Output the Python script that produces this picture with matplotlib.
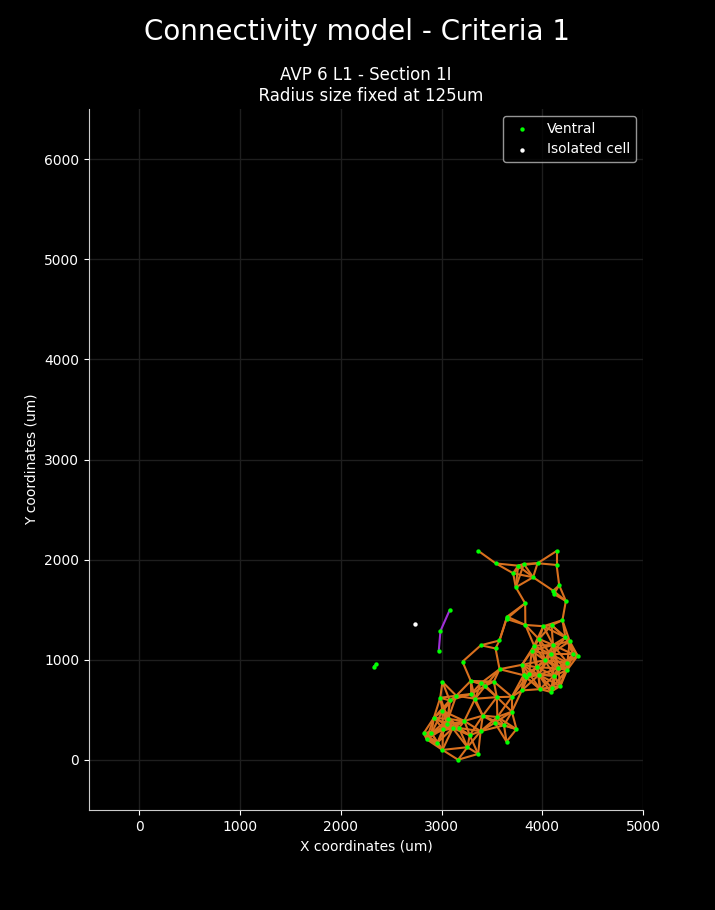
import numpy as np
import matplotlib
matplotlib.use("Agg")
import matplotlib.pyplot as plt
from matplotlib.collections import LineCollection

# Cell coordinates (um)
ventral_x = [3363, 3539, 3760, 3817, 3953, 4142, 4142, 3711, 3909, 3737,
             4168, 4108, 4115, 4234, 3830, 3651, 3645, 4200, 3832, 4011,
             4092, 3390, 3536, 3575, 3208, 3966, 4230, 4272, 3919, 4107,
             3896, 4083, 4307, 4351, 4026, 4249, 3799, 3949, 4158, 4247,
             3576, 3814, 3869, 3843, 3966, 4117, 3519, 4180, 4095, 3978,
             3797, 4083, 3549, 3698, 3009, 3290, 3390, 3436, 3295, 3146,
             2987, 3333, 3081, 3009, 2924, 3409, 3554, 3698, 3065, 3059,
             3226, 3015, 3111, 3173, 3529, 3620, 3744, 2823, 2900, 3280,
             3388, 2851, 2959, 3257, 3009, 3363, 3164, 3645,
             3081, 2989, 2972, 2353, 2326]
ventral_y = [2089, 1962, 1940, 1957, 1964, 2086, 1947, 1864, 1824, 1724,
             1744, 1690, 1657, 1587, 1564, 1431, 1408, 1395, 1348, 1335,
             1345, 1145, 1113, 1193, 981, 1208, 1223, 1186, 1141, 1148,
             1088, 1055, 1055, 1040, 996, 971, 950, 925, 915, 898,
             906, 846, 862, 824, 849, 841, 782, 739, 722, 707,
             694, 679, 627, 631, 779, 789, 766, 742, 659, 641,
             621, 611, 594, 491, 421, 442, 429, 482, 409, 354,
             389, 309, 317, 319, 371, 346, 307, 267, 267, 247,
             287, 207, 173, 127, 100, 60, 2, 183,
             1497, 1288, 1085, 958, 931]
isolated_x = [2734]
isolated_y = [1361]

radius_um = 125

title = "Connectivity model - Criteria 1"
subtitle = "AVP 6 L1 - Section 1I\n  Radius size fixed at 125um"

x = np.array(ventral_x, dtype=float)
y = np.array(ventral_y, dtype=float)
n = len(x)

# edges: cells whose circles (radius 125um) touch
edges = []
for i in range(n):
    for j in range(i + 1, n):
        if np.hypot(x[i] - x[j], y[i] - y[j]) < 2 * radius_um:
            edges.append((i, j))

# connected components
parent = list(range(n))
def find(a):
    while parent[a] != a:
        parent[a] = parent[parent[a]]
        a = parent[a]
    return a
for i, j in edges:
    parent[find(i)] = find(j)
roots = [find(i) for i in range(n)]
sizes = {r: roots.count(r) for r in set(roots)}
main_root = max(sizes, key=sizes.get)

segs_main, segs_other = [], []
for i, j in edges:
    seg = [(x[i], y[i]), (x[j], y[j])]
    (segs_main if find(i) == main_root else segs_other).append(seg)

plt.rcParams['font.family'] = ['DejaVu Sans']
fig = plt.figure(figsize=(7.15, 9.10), dpi=100, facecolor='black')
ax = fig.add_axes([0.1245, 0.1099, 0.7748, 0.7703])
ax.set_facecolor('black')

ax.add_collection(LineCollection(segs_main, colors='#d9701e', linewidths=1.5, zorder=2))
ax.add_collection(LineCollection(segs_other, colors='#a030d8', linewidths=1.5, zorder=2))

ax.scatter(x, y, s=10, color='#00ff00', zorder=3, label='Ventral', linewidths=0)
ax.scatter(isolated_x, isolated_y, s=10, color='white', zorder=3, label='Isolated cell', linewidths=0)

ax.set_xlim(-500, 5000)
ax.set_ylim(-500, 6500)
ax.set_xticks([0, 1000, 2000, 3000, 4000, 5000])
ax.set_yticks([0, 1000, 2000, 3000, 4000, 5000, 6000])
ax.grid(True, color='#1e1e1e', linewidth=1.0)
ax.set_axisbelow(True)

for s in ['top', 'right']:
    ax.spines[s].set_visible(False)
for s in ['left', 'bottom']:
    ax.spines[s].set_color('#cccccc')
ax.tick_params(colors='white', labelsize=10)
ax.set_xlabel('X coordinates (um)', color='white', fontsize=10)
ax.set_ylabel('Y coordinates (um)', color='white', fontsize=10)
ax.set_title(subtitle, color='white', fontsize=12, pad=6)
fig.suptitle(title, color='white', fontsize=20, y=0.980)

leg = ax.legend(loc='upper right', facecolor='black', edgecolor='#bbbbbb',
                labelcolor='white', fontsize=10, markerscale=1.0)

fig.savefig('out.png', dpi=100, facecolor='black')
